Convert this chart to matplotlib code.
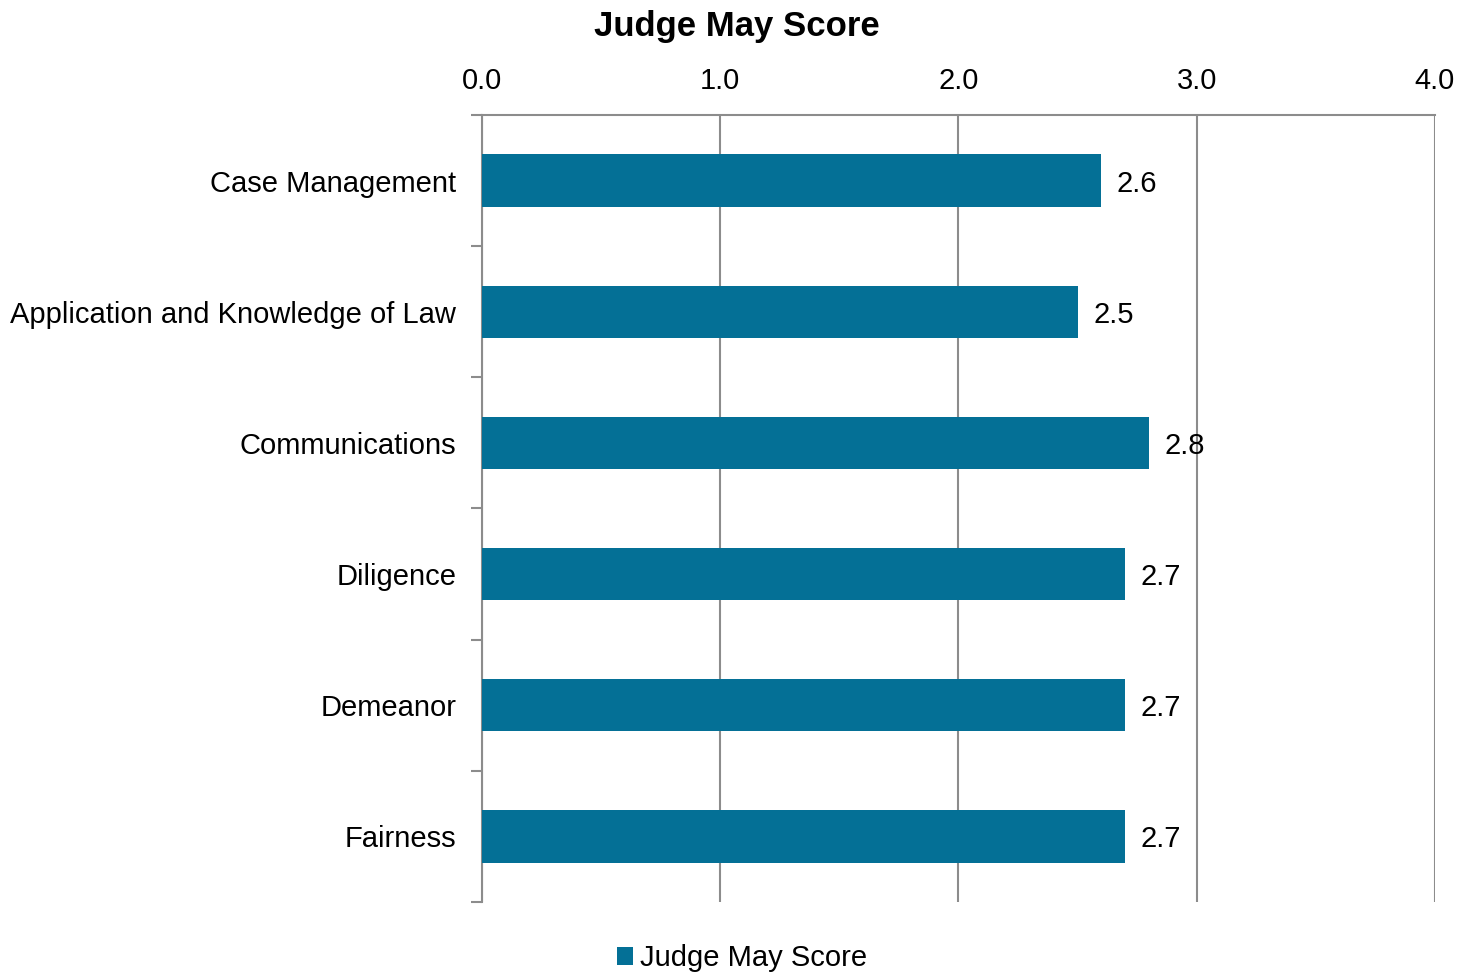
import matplotlib.pyplot as plt
from matplotlib.ticker import FixedLocator, MultipleLocator

plt.rcParams['font.family'] = ['Liberation Sans', 'DejaVu Sans']

# Data
categories = ['Case Management', 'Application and Knowledge of Law', 'Communications',
              'Diligence', 'Demeanor', 'Fairness']
scores = [2.6, 2.5, 2.8, 2.7, 2.7, 2.7]
series_name = 'Judge May Score'

bar_color = '#047096'
grid_color = '#8c8c8c'

fig = plt.figure(figsize=(14.73, 9.73), dpi=100)
ax = fig.add_axes([0.3272, 0.0730, 0.6470, 0.8088])

ypos = list(range(len(categories)))
bars = ax.barh(ypos, scores, height=0.4, color=bar_color, label=series_name, zorder=3)

ax.set_xlim(0, 4)
ax.set_ylim(len(categories) - 0.5, -0.5)

# x axis on top
ax.xaxis.tick_top()
ax.xaxis.set_major_locator(MultipleLocator(1.0))
ax.xaxis.set_major_formatter(plt.FormatStrFormatter('%.1f'))
ax.tick_params(axis='x', length=0, labelsize=21, pad=14.5)
ax.grid(axis='x', color=grid_color, linewidth=1.5, zorder=0)

# y ticks at category boundaries, labels at centres
ax.yaxis.set_major_locator(FixedLocator([i - 0.5 for i in range(len(categories) + 1)]))
ax.set_yticklabels([])
ax.yaxis.set_minor_locator(FixedLocator(ypos))
ax.yaxis.set_minor_formatter(plt.FixedFormatter(categories))
ax.tick_params(axis='y', which='major', length=8, width=1.5, color=grid_color)
ax.tick_params(axis='y', which='minor', length=0, labelsize=21, pad=18.5)

for side in ['right', 'bottom']:
    ax.spines[side].set_visible(False)
for side in ['left', 'top']:
    ax.spines[side].set_color(grid_color)
    ax.spines[side].set_linewidth(1.5)

# value labels
for y, v in zip(ypos, scores):
    ax.text(v + 0.065, y, f'{v:.1f}', va='center_baseline', ha='left', fontsize=21)

fig.text(0.5, 0.973, series_name, ha='center', va='center', fontsize=25, fontweight='bold')

fig.legend(handles=[bars], labels=[series_name], loc='center', bbox_to_anchor=(0.504, 0.015),
           frameon=False, fontsize=21, handlelength=0.55, handleheight=0.55, handletextpad=0.25)

fig.savefig('out.png', dpi=100)
